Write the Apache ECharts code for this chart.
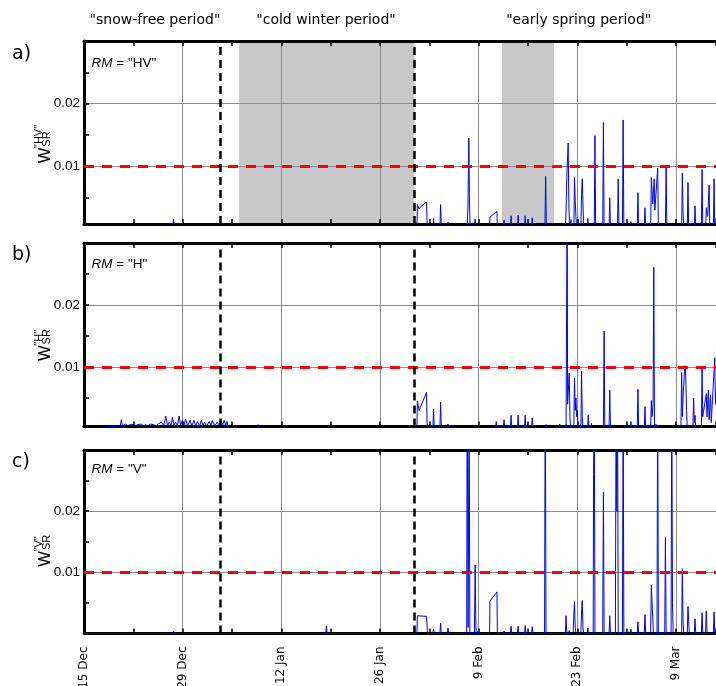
<!DOCTYPE html>
<html>
<head>
<meta charset="utf-8">
<script src="https://cdn.jsdelivr.net/npm/echarts@6/dist/echarts.min.js"></script>
<style>
  html, body { margin: 0; padding: 0; background: #fff; }
  #chart { width: 716px; height: 686px; }
</style>
</head>
<body>
<div id="chart"></div>
<script>
// x values are days counted from 15 Dec
const tickLabels = ['15 Dec', '29 Dec', '12 Jan', '26 Jan', '9 Feb', '23 Feb', '9 Mar'];
const periodTitles = ['"snow-free period"', '"cold winter period"', '"early spring period"'];
const periodBreaks = [19.3, 46.9];
const shadedSpans = [[22.0, 46.9], [59.3, 66.7]];
const threshold = 0.01;
const panelLetters = ['a)', 'b)', 'c)'];
const panelModes = ['"HV"', '"H"', '"V"'];

// W_SR for RM = "HV"
const seriesHV = [
  [0, 0], [12.55, 0], [12.7, 0.0016], [12.85, 0],
  [47.25, 0], [47.3, 0.0039], [47.55, 0.0032], [47.8, 0.0036], [48.6, 0.0043], [48.72, 0],
  [49.5, 0], [49.6, 0.0017], [49.7, 0],
  [50.5, 0], [50.6, 0.0039], [50.7, 0],
  [51.55, 0], [51.65, 0.0011], [51.75, 0],
  [54.35, 0], [54.48, 0.0035], [54.6, 0.0145], [54.7, 0.004], [54.8, 0],
  [55.4, 0], [55.5, 0.0016], [55.6, 0],
  [57.55, 0], [57.6, 0.0019], [58.6, 0.0028], [58.65, 0],
  [59.5, 0], [59.6, 0.0014], [59.7, 0],
  [60.5, 0], [60.6, 0.0021], [60.7, 0],
  [61.5, 0], [61.6, 0.0022], [61.7, 0],
  [62.5, 0], [62.6, 0.0021], [62.7, 0],
  [63.5, 0], [63.6, 0.0018], [63.7, 0],
  [65.4, 0], [65.5, 0.0084], [65.6, 0],
  [68.3, 0], [68.4, 0.0029], [68.5, 0.0082], [68.7, 0.0137], [68.8, 0.004], [68.9, 0],
  [69.05, 0], [69.1, 0.0015], [69.2, 0],
  [69.5, 0], [69.6, 0.0082], [69.7, 0.0045], [69.8, 0.002], [69.9, 0],
  [70.5, 0], [70.6, 0.0055], [70.7, 0.008], [70.8, 0.004], [70.9, 0],
  [71.45, 0], [71.5, 0.0017], [71.6, 0],
  [72.4, 0], [72.5, 0.0149], [72.6, 0],
  [73.6, 0], [73.7, 0.017], [73.8, 0],
  [74.5, 0], [74.6, 0.005], [74.7, 0],
  [75.7, 0], [75.8, 0.008], [75.9, 0],
  [76.4, 0], [76.5, 0.0174], [76.6, 0],
  [77.5, 0], [77.6, 0.0012], [77.7, 0],
  [78.5, 0], [78.6, 0.0058], [78.7, 0],
  [79.5, 0], [79.6, 0.0034], [79.7, 0],
  [80.4, 0], [80.5, 0.0082], [80.7, 0.004], [80.9, 0.008], [81.0, 0.003], [81.4, 0.0097], [81.5, 0],
  [82.5, 0], [82.6, 0.0102], [82.7, 0],
  [84.8, 0], [84.9, 0.0089], [85.0, 0.003], [85.1, 0],
  [85.6, 0], [85.7, 0.0074], [85.8, 0],
  [86.6, 0], [86.7, 0.0037], [86.8, 0],
  [87.6, 0], [87.7, 0.0095], [87.8, 0],
  [88.2, 0], [88.3, 0.0034], [88.5, 0.002], [88.7, 0.007], [88.8, 0],
  [89.3, 0], [89.4, 0.008], [89.5, 0],
  [92, 0]
];

// W_SR for RM = "H"
const seriesH = [
  [0, 0], [5.15, 0.0005], [5.3, 0.0015], [5.45, 0.0005], [5.9, 0.0008], [6.2, 0.0005],
  [6.5, 0.0007], [6.75, 0.0005], [7.0, 0.0007], [7.3, 0.0005], [7.6, 0.0007], [7.85, 0.0005],
  [8.1, 0.0008], [8.45, 0.0005], [8.75, 0.0007], [9.05, 0.0005], [9.4, 0.0008], [9.6, 0.0005],
  [9.85, 0.0007], [10.2, 0.0005], [10.5, 0.0008], [10.75, 0.0005], [11.0, 0.0011], [11.3, 0.0005],
  [11.6, 0.0021], [11.85, 0.0005], [12.1, 0.0011], [12.35, 0.0005], [12.55, 0.0019], [12.8, 0.0005],
  [13.0, 0.0011], [13.25, 0.0005], [13.5, 0.0021], [13.7, 0.0005], [13.95, 0.0014], [14.2, 0.0005],
  [14.4, 0.0016], [14.7, 0.0005], [15.05, 0.0014], [15.3, 0.0005], [15.6, 0.0014], [15.85, 0.0005],
  [16.1, 0.0012], [16.4, 0.0005], [16.65, 0.0014], [16.9, 0.0005], [17.1, 0.0011], [17.4, 0.0005],
  [17.75, 0.0012], [18.0, 0.0005], [18.2, 0.0014], [18.55, 0.0005], [18.9, 0.0011], [19.15, 0.0005],
  [19.4, 0.0015], [19.65, 0.0005], [19.9, 0.0014], [20.1, 0.0005], [20.3, 0.0012], [20.5, 0],
  [24.6, 0], [24.7, 0.0007], [24.8, 0],
  [47.25, 0], [47.3, 0.0045], [47.55, 0.003], [48.6, 0.0059], [48.7, 0],
  [49.5, 0], [49.6, 0.0032], [49.7, 0],
  [50.5, 0], [50.6, 0.0043], [50.7, 0],
  [51.55, 0], [51.65, 0.0008], [51.75, 0],
  [58.4, 0], [58.5, 0.0012], [58.6, 0],
  [59.5, 0], [59.6, 0.0015], [59.7, 0],
  [60.5, 0], [60.6, 0.0022], [60.7, 0],
  [61.5, 0], [61.6, 0.0022], [61.7, 0],
  [62.5, 0], [62.6, 0.0022], [62.7, 0],
  [63.5, 0], [63.6, 0.0018], [63.7, 0],
  [65.5, 0], [65.6, 0.0007], [65.7, 0],
  [67.4, 0], [67.5, 0.0008], [67.6, 0],
  [68.4, 0], [68.52, 0.03], [68.56, 0.036], [68.62, 0.004], [68.85, 0.009], [68.95, 0.002], [69.05, 0],
  [69.5, 0], [69.6, 0.0082], [69.7, 0.003], [69.8, 0.005], [69.9, 0.002], [70.0, 0.003], [70.1, 0],
  [70.5, 0], [70.6, 0.0093], [70.7, 0.002], [70.8, 0],
  [71.45, 0], [71.55, 0.0022], [71.65, 0],
  [71.95, 0], [72.0, 0.0009], [72.1, 0],
  [73.7, 0], [73.8, 0.0158], [73.9, 0],
  [74.5, 0], [74.6, 0.0063], [74.7, 0],
  [77.5, 0], [77.6, 0.0012], [77.7, 0],
  [78.5, 0], [78.6, 0.0064], [78.7, 0],
  [79.5, 0], [79.6, 0.0036], [79.7, 0],
  [80.4, 0], [80.5, 0.0046], [80.6, 0.002], [80.75, 0.004], [80.85, 0.0261], [80.95, 0],
  [81.1, 0], [81.15, 0.0008], [81.25, 0],
  [84.7, 0], [84.8, 0.0091], [84.9, 0.002], [85.0, 0.005], [85.25, 0.0102], [85.35, 0.0098], [85.5, 0.003], [85.6, 0],
  [86.4, 0], [86.5, 0.005], [86.6, 0.001], [86.7, 0.0022], [86.8, 0],
  [87.6, 0], [87.7, 0.0098], [87.8, 0.002], [88.3, 0.0057], [88.4, 0.002], [88.6, 0.0063], [88.7, 0.0015],
  [88.9, 0.0055], [89.0, 0.001], [89.5, 0.0115], [89.6, 0.004], [89.8, 0.0085], [90, 0],
  [92, 0]
];

// W_SR for RM = "V"
const seriesV = [
  [0, 0], [10.4, 0], [10.5, 0.0003], [10.6, 0], [12.6, 0], [12.7, 0.0004], [12.8, 0],
  [34.3, 0], [34.4, 0.0012], [34.5, 0],
  [47.25, 0], [47.3, 0.0029], [47.55, 0.0029], [48.6, 0.0028], [48.75, 0],
  [49.5, 0], [49.6, 0.0007], [49.7, 0],
  [50.5, 0], [50.6, 0.0017], [50.7, 0],
  [51.55, 0], [51.65, 0.0009], [51.75, 0],
  [54.3, 0], [54.37, 0.04], [54.5, 0.001], [54.65, 0.04], [54.75, 0],
  [55.4, 0], [55.5, 0.0112], [55.58, 0.003], [55.65, 0],
  [55.9, 0], [55.95, 0.0004], [56.0, 0],
  [57.55, 0], [57.6, 0.0053], [58.6, 0.0068], [58.65, 0],
  [59.5, 0], [59.6, 0.0004], [59.7, 0],
  [60.5, 0], [60.6, 0.0012], [60.7, 0],
  [61.5, 0], [61.6, 0.0012], [61.7, 0],
  [62.5, 0], [62.6, 0.0013], [62.7, 0],
  [63.5, 0], [63.6, 0.0011], [63.7, 0],
  [65.35, 0], [65.45, 0.045], [65.55, 0],
  [67.6, 0], [67.65, 0.0003], [67.7, 0],
  [68.3, 0], [68.4, 0.0029], [68.5, 0],
  [68.8, 0], [68.85, 0.0005], [68.9, 0],
  [69.4, 0], [69.5, 0.003], [69.6, 0.0052], [69.7, 0.001], [69.8, 0],
  [70.5, 0], [70.6, 0.0035], [70.7, 0.0054], [70.8, 0.001], [70.9, 0],
  [71.4, 0], [71.5, 0.0009], [71.6, 0],
  [72.25, 0], [72.3, 0.026], [72.4, 0.04], [72.5, 0],
  [73.6, 0], [73.7, 0.0231], [73.8, 0],
  [74.5, 0], [74.6, 0.0029], [74.7, 0],
  [75.4, 0], [75.5, 0.04], [75.6, 0.02], [75.7, 0.04], [75.8, 0],
  [76.4, 0], [76.5, 0.04], [76.6, 0],
  [77.5, 0], [77.6, 0.0007], [77.7, 0],
  [78.5, 0], [78.6, 0.0019], [78.7, 0],
  [79.5, 0], [79.6, 0.0031], [79.7, 0],
  [80.4, 0], [80.5, 0.0079], [80.6, 0.0079], [80.7, 0.0079], [80.8, 0],
  [81.3, 0], [81.4, 0.04], [81.5, 0],
  [82.4, 0], [82.5, 0.0157], [82.6, 0],
  [83.3, 0], [83.4, 0.04], [83.5, 0.005], [83.6, 0],
  [84.8, 0], [84.9, 0.0106], [85.0, 0.002], [85.1, 0],
  [85.6, 0], [85.7, 0.0044], [85.8, 0.002], [85.9, 0],
  [86.6, 0], [86.7, 0.0024], [86.8, 0],
  [87.6, 0], [87.7, 0.0034], [87.8, 0],
  [88.2, 0], [88.3, 0.0037], [88.4, 0],
  [89.3, 0], [89.4, 0.0035], [89.5, 0],
  [92, 0]
];

const panelSeries = [seriesHV, seriesH, seriesV];
const panelYMin = [0.0008, 0.0004, 0];

// layout of the three stacked panels; the right edge is cut by the page
const X_MAX = 89.676;
const layout = [
  { top: 41, height: 183 },
  { top: 243, height: 183.5 },
  { top: 450, height: 183.5 }
];
const yNameAnchor = [[45.9, 163.3], [45.9, 361], [45.9, 566.7]];
const letterY = [54, 255, 462];
const modeY = [63, 264, 469];

const labelFont = 'Liberation Sans';
const titleFont = 'DejaVu Sans';
const gridGray = '#8c8c8c';
const frame = { color: '#000', width: 3 };
const tickStyle = { color: '#000', width: 1.5 };

const grid = [], xAxis = [], yAxis = [], series = [], graphic = [];

panelSeries.forEach((data, i) => {
  grid.push({ left: 84, right: 0, top: layout[i].top, height: layout[i].height,
    outerBoundsMode: 'none', containLabel: false });

  // bottom axis: frame line, 14-day grid lines and date labels
  xAxis.push({
    type: 'value', gridIndex: i, min: 0, max: X_MAX, interval: 14, position: 'bottom',
    axisLine: { show: true, onZero: false, lineStyle: frame },
    axisTick: { show: false },
    splitLine: { show: true, showMinLine: false, showMaxLine: false, lineStyle: { color: gridGray, width: 1 } },
    axisLabel: {
      show: i === 2, rotate: 90, margin: 13, color: '#000',
      fontFamily: titleFont, fontSize: 12, showMaxLabel: false,
      formatter: v => tickLabels[Math.round(v / 14)] || ''
    }
  });
  // top frame line with weekly ticks
  xAxis.push({
    type: 'value', gridIndex: i, min: 0, max: X_MAX, interval: 7, position: 'top',
    axisLine: { show: true, onZero: false, lineStyle: frame },
    axisTick: { show: true, inside: true, length: 5, lineStyle: tickStyle },
    splitLine: { show: false }, axisLabel: { show: false }
  });
  // weekly ticks on the bottom frame
  xAxis.push({
    type: 'value', gridIndex: i, min: 0, max: X_MAX, interval: 7, position: 'bottom',
    axisLine: { show: false, onZero: false },
    axisTick: { show: true, inside: true, length: 5, lineStyle: tickStyle },
    splitLine: { show: false }, axisLabel: { show: false }
  });

  // left frame with labels and grid lines at 0.01 / 0.02
  yAxis.push({
    type: 'value', gridIndex: i, min: panelYMin[i], max: 0.03, position: 'left',
    axisLine: { show: true, onZero: false, lineStyle: frame },
    axisTick: { show: true, inside: true, length: 5, lineStyle: tickStyle, customValues: [0.01, 0.02] },
    splitLine: { show: true, lineStyle: { color: gridGray, width: 1 } },
    axisLabel: { customValues: [0.01, 0.02], formatter: v => v.toFixed(2), margin: 4,
      color: '#000', fontFamily: labelFont, fontSize: 13.5 }
  });
  // extra ticks every 0.005
  yAxis.push({
    type: 'value', gridIndex: i, min: panelYMin[i], max: 0.03, position: 'left',
    axisLine: { show: false, onZero: false },
    axisTick: { show: true, inside: true, length: 5, lineStyle: tickStyle,
      customValues: [0.005, 0.015, 0.025] },
    splitLine: { show: false }, axisLabel: { show: false }
  });

  const markData = [
    { yAxis: threshold, lineStyle: { color: '#ff0000', width: 3, type: [10, 8] } },
    ...periodBreaks.map(d => ({ xAxis: d, lineStyle: { color: '#000', width: 2.5, type: [8, 5] } }))
  ];
  const s = {
    type: 'line', xAxisIndex: 3 * i, yAxisIndex: 2 * i, data,
    showSymbol: false, symbol: 'none', clip: true, silent: true,
    lineStyle: { color: '#0000ff', width: 1 },
    markLine: { silent: true, symbol: ['none', 'none'], label: { show: false }, animation: false, data: markData }
  };
  if (i === 0) {
    s.markArea = {
      silent: true, z: -1, animation: false,
      itemStyle: { color: '#c8c8c8' },
      data: shadedSpans.map(([a, b]) => [{ xAxis: a }, { xAxis: b }])
    };
  }
  series.push(s);

  // panel letter, RM annotation and the y-axis name W^mode_SR
  graphic.push({ type: 'text', x: 12, y: letterY[i],
    style: { text: panelLetters[i], fontFamily: titleFont, fontSize: 19, fill: '#000', verticalAlign: 'middle' } });
  graphic.push({ type: 'text', x: 91.5, y: modeY[i],
    style: { text: '{i|RM} = ' + panelModes[i], fontFamily: labelFont, fontSize: 13.5, fill: '#000', verticalAlign: 'middle',
      rich: { i: { fontStyle: 'italic', fontFamily: labelFont, fontSize: 13.5 } } } });
  const [ax, ay] = yNameAnchor[i];
  graphic.push({
    type: 'group', x: ax, y: ay, rotation: Math.PI / 2,
    children: [
      { type: 'text', x: 0, y: 0, style: { text: 'W', fontFamily: labelFont, fontSize: 16.5, fill: '#000', verticalAlign: 'middle' } },
      { type: 'text', x: 16.6, y: 0.8, style: { text: 'SR', fontFamily: labelFont, fontSize: 11, fill: '#000', verticalAlign: 'middle' } },
      { type: 'text', x: 15.3, y: -6.9, style: { text: panelModes[i], fontFamily: labelFont, fontSize: 11, fill: '#000', verticalAlign: 'middle' } }
    ]
  });
});

// period titles above the top panel
const titleX = [155, 326, 578.7];
periodTitles.forEach((t, k) => {
  graphic.push({ type: 'text', x: titleX[k], y: 20,
    style: { text: t, fontFamily: titleFont, fontSize: 14, fill: '#000', align: 'center', verticalAlign: 'middle' } });
});

const chart = echarts.init(document.getElementById('chart'), null, { renderer: 'canvas' });
chart.setOption({
  animation: false,
  backgroundColor: '#fff',
  grid, xAxis, yAxis, series, graphic
});
</script>
</body>
</html>
